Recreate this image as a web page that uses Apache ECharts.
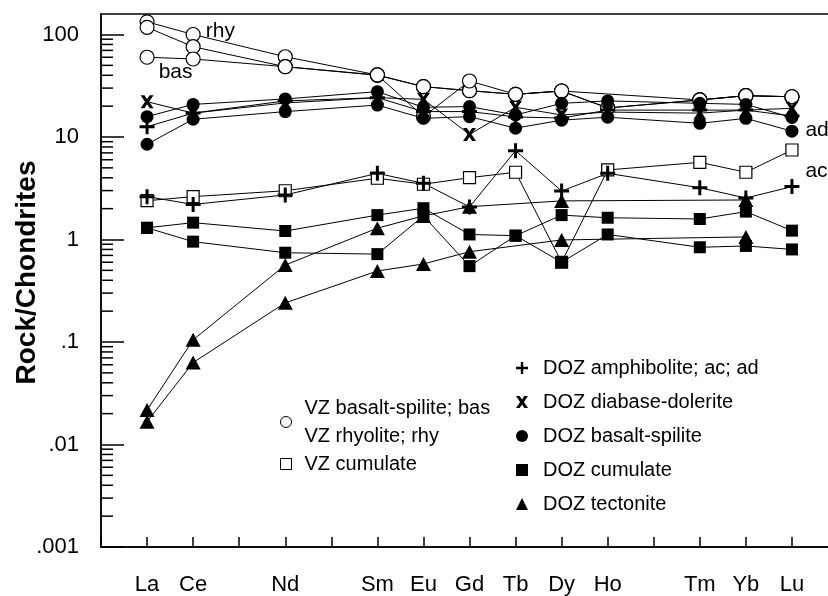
<!DOCTYPE html>
<html>
<head>
<meta charset="utf-8">
<script src="https://cdn.jsdelivr.net/npm/echarts@6/dist/echarts.min.js"></script>
<style>
  html, body { margin: 0; padding: 0; background: #fff; }
  #chart { width: 828px; height: 596px; }
</style>
</head>
<body>
<div id="chart"></div>
<script>
'use strict';

/*-----------------------------------------------
|   REE data (rock / chondrite)
-----------------------------------------------*/

const elements = ['La', 'Ce', 'Pr', 'Nd', 'Pm', 'Sm', 'Eu', 'Gd', 'Tb', 'Dy', 'Ho', 'Er', 'Tm', 'Yb', 'Lu'];
const unlabelled = ['Pr', 'Pm', 'Er'];
const yTickLabels = ['.001', '.01', '.1', '1', '10', '100'];
const minorSteps = [2, 3, 4, 5, 6, 7, 8, 9];
const decades = [0.001, 0.01, 0.1, 1, 10];

//                La     Ce    Pr    Nd    Pm    Sm    Eu    Gd    Tb    Dy    Ho    Er    Tm    Yb    Lu
const vzRhy1   = [133,   100,  null, 60.7, null, 40.3, 31,   28.3, 26.1, 28.1, null, null, 23,   25.3, 24.7];
const vzRhy2   = [117.5, 76,   null, 48.5, null, 40,   31,   28.3, 26.1, 28.1, 19.2, null, 23,   25.3, 24.7];
const vzBas    = [60,    57.7, null, 48.5, null, 40.3, 15.8, 35.2, 26.1, 28.1, 19.2, null, 23,   25.3, 24.7];
const vzCum    = [2.39,  2.62, null, 2.99, null, 3.96, 3.46, 4.01, 4.53, 0.6,  4.77, null, 5.66, 4.53, 7.47];
const dozAmphAc = [2.62, 2.2,  null, 2.72, null, 4.42, 3.53, 2.08, 7.35, 2.97, 4.42, null, 3.2,  2.54, 3.28];
const dozAmphAd = [12.6, 17.1, null, 22.5, null, 24.2, 17.7, 17.7, 15.7, 15.3, 18.3, null, 18.3, 18.3, 16];
const dozDiab  = [22.1,  17.1, null, 21.5, null, 24.2, 23.3, 10.6, 19.5, 16.4, 17.5, null, 17.1, 18.3, 19.05];
const dozBas1  = [15.8,  20.8, null, 23.5, null, 27.7, 19.5, 19.8, 16.4, 21.3, 22.5, null, 21.3, 20.8, 15.5];
const dozBas2  = [8.5,   14.9, null, 17.7, null, 20.5, 15.2, 15.8, 12.2, 14.6, 15.6, null, 13.6, 15.2, 11.4];
const dozCum1  = [1.3,   1.46, null, 1.21, null, 1.73, 2.02, 1.12, 1.09, 1.73, 1.63, null, 1.585, 1.87, 1.22];
const dozCum2  = [1.3,   0.953, null, 0.743, null, 0.72, 1.7, 0.55, 1.09, 0.6, 1.12, null, 0.84, 0.865, 0.8];
const dozTec1  = [0.0217, 0.105, null, 0.563, null, 1.29, 1.7, 2.09, null, 2.38, null, null, null, 2.43, null];
const dozTec2  = [0.0167, 0.063, null, 0.241, null, 0.493, 0.577, 0.76, null, 0.99, null, null, null, 1.06, null];

const FONT = '"Liberation Sans", Arial, Helvetica, sans-serif';
const PLUS = 'path://M4,0H6V4H10V6H6V10H4V6H0V4H4Z';
const CROSS = 'path://M0,0H3L5,3L7,0H10L6.6,5L10,10H7L5,7L3,10H0L3.4,5Z';

const NAME = {
  VZ_BAS: 'VZ basalt-spilite; bas',
  VZ_RHY: 'VZ rhyolite; rhy',
  VZ_CUM: 'VZ cumulate',
  AMPH: 'DOZ amphibolite; ac; ad',
  DIAB: 'DOZ diabase-dolerite',
  BAS: 'DOZ basalt-spilite',
  CUM: 'DOZ cumulate',
  TEC: 'DOZ tectonite',
};

const minorTicks = [];
decades.forEach((d) => minorSteps.forEach((s) => minorTicks.push([0, d * s])));

const toPoints = (values) =>
  values.map((v, i) => (v == null ? null : [i + 1, v])).filter((p) => p !== null);

// put a text tag next to one point of a series
const tag = (points, el, text, label) => {
  const x = elements.indexOf(el) + 1;
  return points.map((p) =>
    p[0] === x
      ? {
          value: p,
          label: Object.assign(
            { show: true, formatter: text, position: 'right', color: '#000', fontSize: 21, fontFamily: FONT },
            label
          ),
        }
      : p
  );
};

const line = (name, data, symbol, size, filled) => ({
  name,
  type: 'line',
  data,
  symbol,
  symbolSize: size,
  lineStyle: { color: '#000', width: 1 },
  itemStyle: {
    color: filled ? '#000' : '#fff',
    borderColor: '#000',
    borderWidth: filled ? 0 : 1.2,
  },
  emphasis: { disabled: true },
  silent: true,
});

const chart = echarts.init(document.getElementById('chart'));

chart.setOption({
  animation: false,
  backgroundColor: '#fff',
  textStyle: { fontFamily: FONT },
  grid: {
    left: 101,
    top: 14,
    width: 737,
    height: 533,
    containLabel: false,
    outerBoundsMode: 'none',
    show: true,
    borderColor: '#000',
    borderWidth: 1.5,
    backgroundColor: 'transparent',
  },
  legend: [
    {
      orient: 'vertical',
      left: 275,
      top: 389,
      itemWidth: 11,
      itemHeight: 11,
      itemGap: 0,
      selectedMode: false,
      data: [
        { name: NAME.VZ_BAS, icon: 'circle' },
        { name: NAME.VZ_CUM, icon: 'rect' },
      ],
      formatter: (n) => (n === NAME.VZ_BAS ? NAME.VZ_BAS + '\n' + NAME.VZ_RHY : n),
      itemStyle: { borderWidth: 1 },
      textStyle: { fontSize: 20, lineHeight: 28, color: '#000', fontFamily: FONT, padding: [0, 0, 0, 8] },
    },
    {
      orient: 'vertical',
      left: 511,
      top: 351,
      itemWidth: 12,
      itemHeight: 12,
      itemGap: 10,
      selectedMode: false,
      data: [
        { name: NAME.AMPH, icon: PLUS },
        { name: NAME.DIAB, icon: CROSS },
        { name: NAME.BAS, icon: 'circle' },
        { name: NAME.CUM, icon: 'rect' },
        { name: NAME.TEC, icon: 'triangle' },
      ],
      itemStyle: { borderWidth: 0 },
      textStyle: { fontSize: 20, lineHeight: 24, color: '#000', fontFamily: FONT, padding: [0, 0, 0, 10] },
    },
  ],
  xAxis: {
    type: 'value',
    min: 0,
    max: 16,
    interval: 1,
    splitLine: { show: false },
    axisLine: { lineStyle: { color: '#000', width: 1.5 } },
    axisTick: { inside: true, length: 10, lineStyle: { color: '#000', width: 1.5 } },
    axisLabel: {
      margin: 27,
      fontSize: 22,
      color: '#000',
      fontFamily: FONT,
      formatter: (v) => {
        const el = elements[v - 1];
        return el && !unlabelled.includes(el) ? el : '';
      },
    },
  },
  yAxis: {
    type: 'log',
    logBase: 10,
    min: 0.001,
    max: 158.5,
    name: 'Rock/Chondrites',
    nameLocation: 'middle',
    nameGap: 60,
    nameMoveOverlap: false,
    nameTextStyle: {
      fontSize: 28,
      fontWeight: 'bold',
      color: '#000',
      fontFamily: FONT,
      padding: [0, 0, 0, 16],
    },
    splitLine: { show: false },
    axisLine: { lineStyle: { color: '#000', width: 1.5 } },
    axisTick: { inside: true, length: 23, lineStyle: { color: '#000', width: 1.5 } },
    axisLabel: {
      margin: 22,
      fontSize: 22,
      color: '#000',
      fontFamily: FONT,
      showMaxLabel: false,
      formatter: (v) => {
        const e = Math.log10(v);
        if (Math.abs(e - Math.round(e)) > 1e-6) return '';
        return yTickLabels[Math.round(e) + 3] || '';
      },
    },
  },
  series: [
    {
      type: 'custom',
      silent: true,
      data: minorTicks,
      renderItem: (params, api) => {
        const pt = api.coord([0, api.value(1)]);
        return {
          type: 'line',
          shape: { x1: pt[0], y1: pt[1], x2: pt[0] + 12, y2: pt[1] },
          style: { stroke: '#000', lineWidth: 1.5 },
        };
      },
    },
    line(NAME.VZ_RHY, tag(toPoints(vzRhy1), 'Ce', 'rhy', { distance: 5, offset: [0, -3] }), 'circle', 14, false),
    line(NAME.VZ_RHY, toPoints(vzRhy2), 'circle', 14, false),
    line(NAME.VZ_BAS, tag(toPoints(vzBas), 'La', 'bas', { distance: 4, offset: [0, 15] }), 'circle', 14, false),
    line(NAME.VZ_CUM, toPoints(vzCum), 'rect', 12, false),
    line(NAME.BAS, toPoints(dozBas1), 'circle', 13, true),
    line(NAME.BAS, toPoints(dozBas2), 'circle', 13, true),
    line(NAME.DIAB, toPoints(dozDiab), CROSS, 13, true),
    line(NAME.AMPH, tag(toPoints(dozAmphAd), 'Lu', 'ad', { distance: 6, offset: [0, 14] }), PLUS, 15, true),
    line(NAME.AMPH, tag(toPoints(dozAmphAc), 'Lu', 'ac', { distance: 6, offset: [0, -15] }), PLUS, 15, true),
    line(NAME.CUM, toPoints(dozCum1), 'rect', 12, true),
    line(NAME.CUM, toPoints(dozCum2), 'rect', 12, true),
    line(NAME.TEC, toPoints(dozTec1), 'triangle', [15, 14], true),
    line(NAME.TEC, toPoints(dozTec2), 'triangle', [15, 14], true),
  ],
});
</script>
</body>
</html>
